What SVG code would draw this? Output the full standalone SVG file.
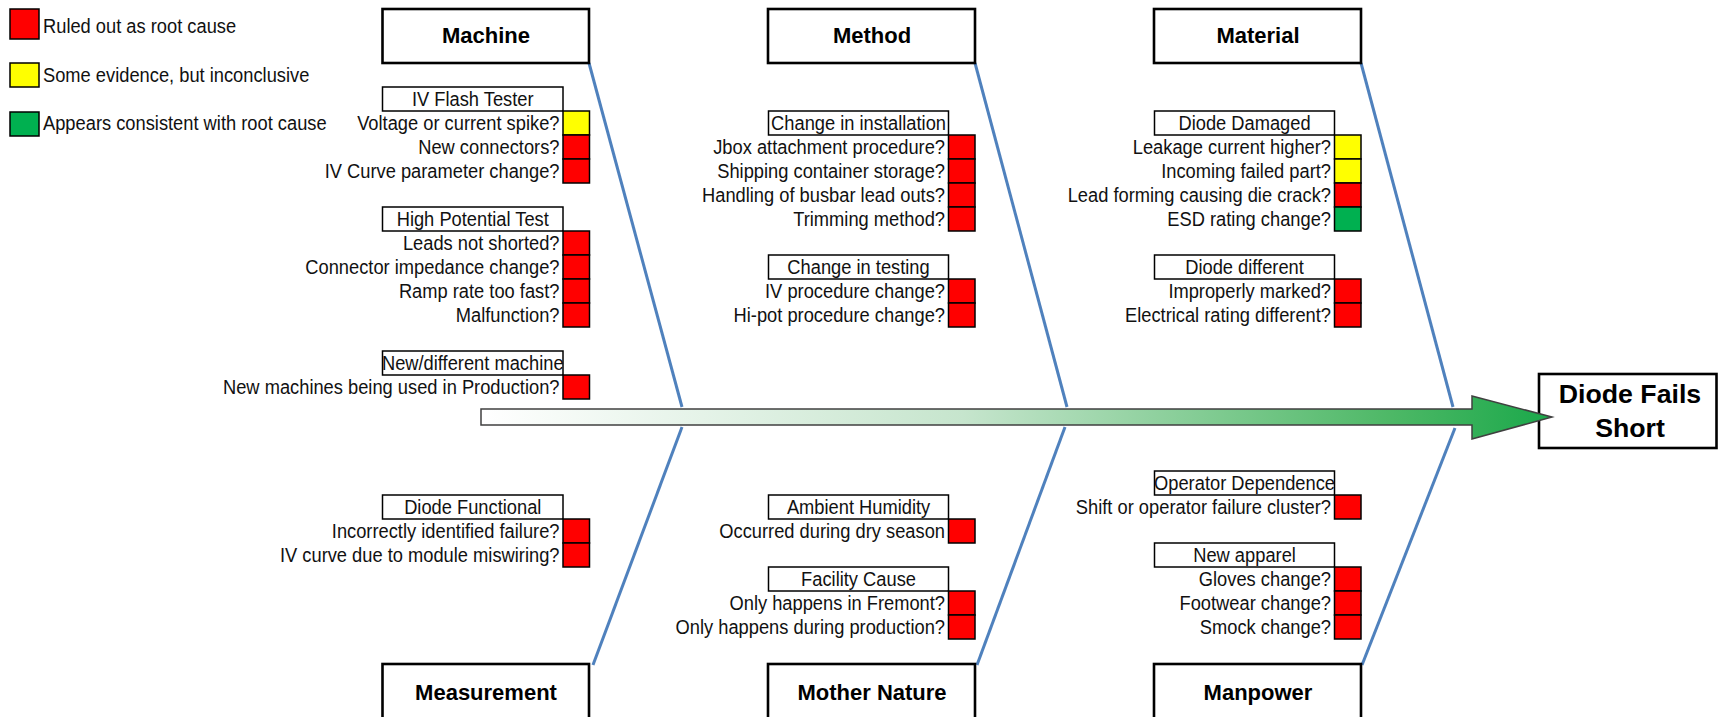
<svg xmlns="http://www.w3.org/2000/svg" width="1718" height="717" viewBox="0 0 1718 717">
<style>
.t{font-family:"Liberation Sans",Arial,sans-serif;font-size:20px;fill:#111}
.e{text-anchor:end}
.m{text-anchor:middle}
.b{font-family:"Liberation Sans",Arial,sans-serif;font-weight:bold;font-size:22px;fill:#000;text-anchor:middle}
.bb{font-size:26.7px}
.hdr{fill:#fff;stroke:#000;stroke-width:1.5}
.cat{fill:#fff;stroke:#000;stroke-width:2.6}
.sq{stroke:#000;stroke-width:1.5}
.r{fill:#FF0000}
.y{fill:#FFFF00}
.g{fill:#00B050}
.bone{stroke:#4F81BD;stroke-width:3;fill:none}
</style>
<defs>
<linearGradient id="arrowGrad" gradientUnits="userSpaceOnUse" x1="481" y1="0" x2="1553" y2="0">
<stop offset="0" stop-color="#ffffff"/>
<stop offset="0.45" stop-color="#c6e5cd"/>
<stop offset="0.85" stop-color="#4db866"/>
<stop offset="1" stop-color="#1aa84a"/>
</linearGradient>
</defs>
<rect width="1718" height="717" fill="#fff"/>

<g id="legend">
<rect class="sq r" x="10" y="9" width="29" height="30"/>
<rect class="sq y" x="10" y="63" width="29" height="24"/>
<rect class="sq g" x="10" y="112" width="29" height="24"/>
<g transform="matrix(0.915,0,0,1,43,0)">
<text class="t" x="0" y="33">Ruled out as root cause</text>
<text class="t" x="0" y="82">Some evidence, but inconclusive</text>
<text class="t" x="0" y="130">Appears consistent with root cause</text>
</g>
</g>

<g id="connectors">
<line class="bone" x1="589" y1="63" x2="682" y2="407"/>
<line class="bone" x1="682" y1="427" x2="593" y2="665"/>
<line class="bone" x1="975" y1="63" x2="1067" y2="407"/>
<line class="bone" x1="1065" y1="427" x2="977" y2="665"/>
<line class="bone" x1="1361" y1="63" x2="1453" y2="407"/>
<line class="bone" x1="1455" y1="428" x2="1362" y2="665"/>
</g>

<g id="machine">
<rect class="cat" x="382.5" y="9" width="206.5" height="54"/>
<text class="b" x="486" y="43">Machine</text>
</g>
<g id="method">
<rect class="cat" x="768" y="9" width="207" height="54"/>
<text class="b" x="872" y="43">Method</text>
</g>
<g id="material">
<rect class="cat" x="1154" y="9" width="207" height="54"/>
<text class="b" x="1258" y="43">Material</text>
</g>
<g id="measurement">
<rect class="cat" x="382.5" y="664" width="206.5" height="70"/>
<text class="b" x="486" y="700">Measurement</text>
</g>
<g id="mother-nature">
<rect class="cat" x="768" y="664" width="207" height="70"/>
<text class="b" x="872" y="700">Mother Nature</text>
</g>
<g id="manpower">
<rect class="cat" x="1154" y="664" width="207" height="70"/>
<text class="b" x="1258" y="700">Manpower</text>
</g>

<g id="effect">
<rect class="cat" x="1539" y="374" width="177.5" height="74"/>
<text class="b bb" x="1630" y="403">Diode Fails</text>
<text class="b bb" x="1630" y="437">Short</text>
</g>

<g id="spine">
<polygon points="481,409 1472,409 1472,396 1552,417 1472,439 1472,425 481,425" fill="url(#arrowGrad)" stroke="#404040" stroke-width="1.5" stroke-linejoin="miter"/>
</g>

<g id="iv-flash-tester">
<rect class="hdr" x="382.5" y="87" width="180.5" height="24"/>
<rect class="sq y" x="563" y="111" width="26.5" height="24"/>
<rect class="sq r" x="563" y="135" width="26.5" height="24"/>
<rect class="sq r" x="563" y="159" width="26.5" height="24"/>
<g transform="matrix(0.915,0,0,1,559.5,0)">
<text class="t m" x="-94.8" y="106">IV Flash Tester</text>
<text class="t e" x="0" y="130">Voltage or current spike?</text>
<text class="t e" x="0" y="154">New connectors?</text>
<text class="t e" x="0" y="178">IV Curve parameter change?</text>
</g>
</g>

<g id="high-potential-test">
<rect class="hdr" x="382.5" y="207" width="180.5" height="24"/>
<rect class="sq r" x="563" y="231" width="26.5" height="24"/>
<rect class="sq r" x="563" y="255" width="26.5" height="24"/>
<rect class="sq r" x="563" y="279" width="26.5" height="24"/>
<rect class="sq r" x="563" y="303" width="26.5" height="24"/>
<g transform="matrix(0.915,0,0,1,559.5,0)">
<text class="t m" x="-94.8" y="226">High Potential Test</text>
<text class="t e" x="0" y="250">Leads not shorted?</text>
<text class="t e" x="0" y="274">Connector impedance change?</text>
<text class="t e" x="0" y="298">Ramp rate too fast?</text>
<text class="t e" x="0" y="322">Malfunction?</text>
</g>
</g>

<g id="new-different-machine">
<rect class="hdr" x="382.5" y="351" width="180.5" height="24"/>
<rect class="sq r" x="563" y="375" width="26.5" height="24"/>
<g transform="matrix(0.915,0,0,1,559.5,0)">
<text class="t m" x="-94.8" y="370">New/different machine</text>
<text class="t e" x="0" y="394">New machines being used in Production?</text>
</g>
</g>

<g id="diode-functional">
<rect class="hdr" x="382.5" y="495" width="180.5" height="24"/>
<rect class="sq r" x="563" y="519" width="26.5" height="24"/>
<rect class="sq r" x="563" y="543" width="26.5" height="24"/>
<g transform="matrix(0.915,0,0,1,559.5,0)">
<text class="t m" x="-94.8" y="514">Diode Functional</text>
<text class="t e" x="0" y="538">Incorrectly identified failure?</text>
<text class="t e" x="0" y="562">IV curve due to module miswiring?</text>
</g>
</g>

<g id="change-in-installation">
<rect class="hdr" x="768.5" y="111" width="180" height="24"/>
<rect class="sq r" x="948.5" y="135" width="26.5" height="24"/>
<rect class="sq r" x="948.5" y="159" width="26.5" height="24"/>
<rect class="sq r" x="948.5" y="183" width="26.5" height="24"/>
<rect class="sq r" x="948.5" y="207" width="26.5" height="24"/>
<g transform="matrix(0.915,0,0,1,945,0)">
<text class="t m" x="-94.5" y="130">Change in installation</text>
<text class="t e" x="0" y="154">Jbox attachment procedure?</text>
<text class="t e" x="0" y="178">Shipping container storage?</text>
<text class="t e" x="0" y="202">Handling of busbar lead outs?</text>
<text class="t e" x="0" y="226">Trimming method?</text>
</g>
</g>

<g id="change-in-testing">
<rect class="hdr" x="768.5" y="255" width="180" height="24"/>
<rect class="sq r" x="948.5" y="279" width="26.5" height="24"/>
<rect class="sq r" x="948.5" y="303" width="26.5" height="24"/>
<g transform="matrix(0.915,0,0,1,945,0)">
<text class="t m" x="-94.5" y="274">Change in testing</text>
<text class="t e" x="0" y="298">IV procedure change?</text>
<text class="t e" x="0" y="322">Hi-pot procedure change?</text>
</g>
</g>

<g id="ambient-humidity">
<rect class="hdr" x="768.5" y="495" width="180" height="24"/>
<rect class="sq r" x="948.5" y="519" width="26.5" height="24"/>
<g transform="matrix(0.915,0,0,1,945,0)">
<text class="t m" x="-94.5" y="514">Ambient Humidity</text>
<text class="t e" x="0" y="538">Occurred during dry season</text>
</g>
</g>

<g id="facility-cause">
<rect class="hdr" x="768.5" y="567" width="180" height="24"/>
<rect class="sq r" x="948.5" y="591" width="26.5" height="24"/>
<rect class="sq r" x="948.5" y="615" width="26.5" height="24"/>
<g transform="matrix(0.915,0,0,1,945,0)">
<text class="t m" x="-94.5" y="586">Facility Cause</text>
<text class="t e" x="0" y="610">Only happens in Fremont?</text>
<text class="t e" x="0" y="634">Only happens during production?</text>
</g>
</g>

<g id="diode-damaged">
<rect class="hdr" x="1154.5" y="111" width="180" height="24"/>
<rect class="sq y" x="1334.5" y="135" width="26.5" height="24"/>
<rect class="sq y" x="1334.5" y="159" width="26.5" height="24"/>
<rect class="sq r" x="1334.5" y="183" width="26.5" height="24"/>
<rect class="sq g" x="1334.5" y="207" width="26.5" height="24"/>
<g transform="matrix(0.915,0,0,1,1331,0)">
<text class="t m" x="-94.5" y="130">Diode Damaged</text>
<text class="t e" x="0" y="154">Leakage current higher?</text>
<text class="t e" x="0" y="178">Incoming failed part?</text>
<text class="t e" x="0" y="202">Lead forming causing die crack?</text>
<text class="t e" x="0" y="226">ESD rating change?</text>
</g>
</g>

<g id="diode-different">
<rect class="hdr" x="1154.5" y="255" width="180" height="24"/>
<rect class="sq r" x="1334.5" y="279" width="26.5" height="24"/>
<rect class="sq r" x="1334.5" y="303" width="26.5" height="24"/>
<g transform="matrix(0.915,0,0,1,1331,0)">
<text class="t m" x="-94.5" y="274">Diode different</text>
<text class="t e" x="0" y="298">Improperly marked?</text>
<text class="t e" x="0" y="322">Electrical rating different?</text>
</g>
</g>

<g id="operator-dependence">
<rect class="hdr" x="1154.5" y="471" width="180" height="24"/>
<rect class="sq r" x="1334.5" y="495" width="26.5" height="24"/>
<g transform="matrix(0.915,0,0,1,1331,0)">
<text class="t m" x="-94.5" y="490">Operator Dependence</text>
<text class="t e" x="0" y="514">Shift or operator failure cluster?</text>
</g>
</g>

<g id="new-apparel">
<rect class="hdr" x="1154.5" y="543" width="180" height="24"/>
<rect class="sq r" x="1334.5" y="567" width="26.5" height="24"/>
<rect class="sq r" x="1334.5" y="591" width="26.5" height="24"/>
<rect class="sq r" x="1334.5" y="615" width="26.5" height="24"/>
<g transform="matrix(0.915,0,0,1,1331,0)">
<text class="t m" x="-94.5" y="562">New apparel</text>
<text class="t e" x="0" y="586">Gloves change?</text>
<text class="t e" x="0" y="610">Footwear change?</text>
<text class="t e" x="0" y="634">Smock change?</text>
</g>
</g>
</svg>
